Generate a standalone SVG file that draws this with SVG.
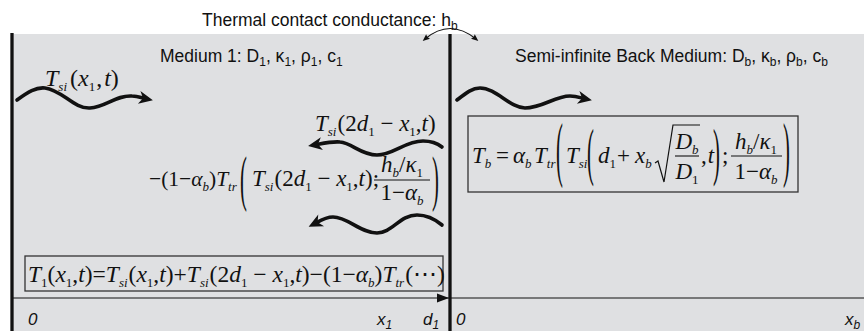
<svg xmlns="http://www.w3.org/2000/svg" width="864" height="331" viewBox="0 0 864 331">
<defs>
<style>
.sans{font-family:"Liberation Sans",Arial,sans-serif;font-size:17.5px;fill:#111}
.ax{font-family:"Liberation Sans",Arial,sans-serif;font-size:17px;font-style:italic;fill:#111}
.m{font-family:"Liberation Serif","Times New Roman",serif;font-size:23px;fill:#111}
.i{font-style:italic}
.s{font-size:13px}
.ss{font-size:12px}
.wave{fill:none;stroke:#111;stroke-width:3.6;stroke-linecap:round;marker-end:url(#ah)}
.box{fill:none;stroke:#333;stroke-width:1.3}
.bar{stroke:#111;stroke-width:1.1}
.thick{stroke:#111;stroke-width:3.3}
</style>
<marker id="ah" markerUnits="userSpaceOnUse" viewBox="-10 -8 18 16" markerWidth="18" markerHeight="16" refX="0" refY="0" orient="auto">
<path d="M6,0 L-8,-6.5 L-4,0 L-8,6.5 Z" fill="#111"/>
</marker>
<marker id="sa" markerUnits="userSpaceOnUse" viewBox="-6 -4 10 8" markerWidth="10" markerHeight="8" refX="0" refY="0" orient="auto-start-reverse">
<path d="M3,0 L-4,-3 L-3,0 L-4,3 Z" fill="#111"/>
</marker>
</defs>

<rect x="12" y="34" width="852" height="297" fill="#dfe0e2"/>

<g id="title">
<text class="sans" x="202" y="26">Thermal contact conductance: h<tspan class="ss" dy="4">b</tspan></text>
<path d="M425,39 Q450,18 476,39" fill="none" stroke="#111" stroke-width="1.2" marker-start="url(#sa)" marker-end="url(#sa)"/>
</g>

<g id="medium1">
<line class="thick" x1="12" y1="33" x2="12" y2="331"/>
<text class="sans" x="160" y="62">Medium 1: D<tspan class="ss" dy="4">1</tspan><tspan dy="-4">, κ</tspan><tspan class="ss" dy="4">1</tspan><tspan dy="-4">, ρ</tspan><tspan class="ss" dy="4">1</tspan><tspan dy="-4">, c</tspan><tspan class="ss" dy="4">1</tspan></text>
<text class="m" x="45" y="86" style="font-size:24px"><tspan class="i">T</tspan><tspan class="s i" dy="5">si</tspan><tspan dy="-5" dx="3">(</tspan><tspan class="i">x</tspan><tspan class="s" dy="5">1</tspan><tspan dy="-5" dx="1">,</tspan><tspan class="i" dx="2">t</tspan>)</text>
<text class="m" x="315" y="131"><tspan class="i">T</tspan><tspan class="s i" dy="5">si</tspan><tspan dy="-5" dx="1">(2</tspan><tspan class="i">d</tspan><tspan class="s" dy="5">1</tspan><tspan dy="-5"> − </tspan><tspan class="i">x</tspan><tspan class="s" dy="5">1</tspan><tspan dy="-5">,</tspan><tspan class="i">t</tspan>)</text>
<g id="reflection">
<text class="m" x="149" y="186" style="font-size:21.5px">−(1−<tspan class="i">α</tspan><tspan class="s i" dy="5">b</tspan><tspan dy="-5">)</tspan><tspan class="i">T</tspan><tspan class="s i" dy="5">tr</tspan></text>
<text class="m" transform="translate(240,199) scale(0.9,2.7)">(</text>
<text class="m" x="252" y="186"><tspan class="i">T</tspan><tspan class="s i" dy="5">si</tspan><tspan dy="-5" dx="1">(2</tspan><tspan class="i">d</tspan><tspan class="s" dy="5">1</tspan><tspan dy="-5"> − </tspan><tspan class="i">x</tspan><tspan class="s" dy="5">1</tspan><tspan dy="-5">,</tspan><tspan class="i">t</tspan>);</text>
<text class="m" x="402" y="172" text-anchor="middle"><tspan class="i">h</tspan><tspan class="s i" dy="5">b</tspan><tspan dy="-5">/</tspan><tspan class="i">κ</tspan><tspan class="s" dy="5">1</tspan></text>
<line class="bar" x1="374" y1="180" x2="430" y2="180"/>
<text class="m" x="402" y="200" text-anchor="middle">1−<tspan class="i">α</tspan><tspan class="s i" dy="5">b</tspan></text>
<text class="m" transform="translate(432,199) scale(0.9,2.7)">)</text>
</g>
<rect class="box" x="25" y="256" width="418" height="35"/>
<text class="m" x="28" y="282" style="font-size:23.5px"><tspan class="i">T</tspan><tspan class="s" dy="5">1</tspan><tspan dy="-5">(</tspan><tspan class="i">x</tspan><tspan class="s" dy="5">1</tspan><tspan dy="-5">,</tspan><tspan class="i">t</tspan>)=<tspan class="i">T</tspan><tspan class="s i" dy="5">si</tspan><tspan dy="-5" dx="1">(</tspan><tspan class="i">x</tspan><tspan class="s" dy="5">1</tspan><tspan dy="-5">,</tspan><tspan class="i">t</tspan>)+<tspan class="i">T</tspan><tspan class="s i" dy="5">si</tspan><tspan dy="-5" dx="1">(2</tspan><tspan class="i">d</tspan><tspan class="s" dy="5">1</tspan><tspan dy="-5"> − </tspan><tspan class="i">x</tspan><tspan class="s" dy="5">1</tspan><tspan dy="-5">,</tspan><tspan class="i">t</tspan>)−(1−<tspan class="i">α</tspan><tspan class="s i" dy="5">b</tspan><tspan dy="-5">)</tspan><tspan class="i">T</tspan><tspan class="s i" dy="5">tr</tspan><tspan dy="-5" dx="1">(⋯)</tspan></text>
</g>

<g id="interface">
<line class="thick" x1="450" y1="34" x2="450" y2="331" stroke-width="3.5"/>
</g>

<g id="backMedium">
<text class="sans" x="515" y="62">Semi-infinite Back Medium: D<tspan class="ss" dy="4">b</tspan><tspan dy="-4">, κ</tspan><tspan class="ss" dy="4">b</tspan><tspan dy="-4">, ρ</tspan><tspan class="ss" dy="4">b</tspan><tspan dy="-4">, c</tspan><tspan class="ss" dy="4">b</tspan></text>
<rect class="box" x="468" y="116" width="330" height="76"/>
<text class="m" x="472" y="163"><tspan class="i">T</tspan><tspan class="s i" dy="5">b</tspan></text>
<text class="m" x="496" y="163">=</text>
<text class="m" x="513" y="163"><tspan class="i">α</tspan><tspan class="s i" dy="5">b</tspan></text>
<text class="m" x="534" y="163"><tspan class="i">T</tspan><tspan class="s i" dy="5">tr</tspan></text>
<text class="m" transform="translate(556,173.4) scale(0.9,3.1)">(</text>
<text class="m" x="566" y="163"><tspan class="i">T</tspan><tspan class="s i" dy="5">si</tspan></text>
<text class="m" transform="translate(587,173) scale(0.9,2.75)">(</text>
<text class="m" x="598" y="163"><tspan class="i">d</tspan><tspan class="s" dy="5">1</tspan></text>
<text class="m" x="617" y="163">+</text>
<text class="m" x="635" y="163"><tspan class="i">x</tspan><tspan class="s i" dy="5">b</tspan></text>
<polyline points="655,163 658,161 664,182 673,125 700,125" fill="none" stroke="#111" stroke-width="1.2"/>
<text class="m" x="687" y="149" text-anchor="middle"><tspan class="i">D</tspan><tspan class="s i" dy="5">b</tspan></text>
<line class="bar" x1="675" y1="156" x2="699" y2="156"/>
<text class="m" x="687" y="179" text-anchor="middle"><tspan class="i">D</tspan><tspan class="s" dy="5">1</tspan></text>
<text class="m" x="701" y="163">,<tspan class="i" dx="1">t</tspan></text>
<text class="m" transform="translate(713,173) scale(0.9,2.75)">)</text>
<text class="m" x="722" y="163">;</text>
<text class="m" x="756" y="149" text-anchor="middle"><tspan class="i">h</tspan><tspan class="s i" dy="5">b</tspan><tspan dy="-5">/</tspan><tspan class="i">κ</tspan><tspan class="s" dy="5">1</tspan></text>
<line class="bar" x1="731" y1="156" x2="782" y2="156"/>
<text class="m" x="756" y="179" text-anchor="middle">1−<tspan class="i">α</tspan><tspan class="s i" dy="5">b</tspan></text>
<text class="m" transform="translate(783,173.4) scale(0.9,3.1)">)</text>
</g>

<g id="axis">
<line x1="12" y1="298" x2="864" y2="298" stroke="#111" stroke-width="1"/>
<polygon points="449,298 437,293.5 437,302.5" fill="#111"/>
<text class="ax" x="28" y="325">0</text>
<text class="ax" x="377" y="325">x<tspan class="ss" dy="4">1</tspan></text>
<text class="ax" x="423" y="325">d<tspan class="ss" dy="4">1</tspan></text>
<text class="ax" x="456" y="325">0</text>
<text class="ax" x="845" y="325">x<tspan class="ss" dy="4">b</tspan></text>
</g>

<g id="connectors">
<path class="wave" d="M17,100 C28,92 36,87 45,88 C62,90 74,109 90,108 C106,107 116,95 132,96 C138,96 142,98 147,99"/>
<path class="wave" d="M457,100 C466,93 472,88 480,88 C496,88 510,108 525,108 C542,108 555,96 570,96 C577,96 581,98 586,99"/>
<path class="wave" d="M442,147 C437,143 430,141 423,141 C405,141 393,155 377,155 C361,155 352,143 340,142 C333,141 320,144 314,145"/>
<path class="wave" d="M442,225 C436,220 427,215 417,215 C400,215 392,233 377,233 C360,233 348,217 333,217 C325,217 318,222 314,224"/>
</g>
</svg>
